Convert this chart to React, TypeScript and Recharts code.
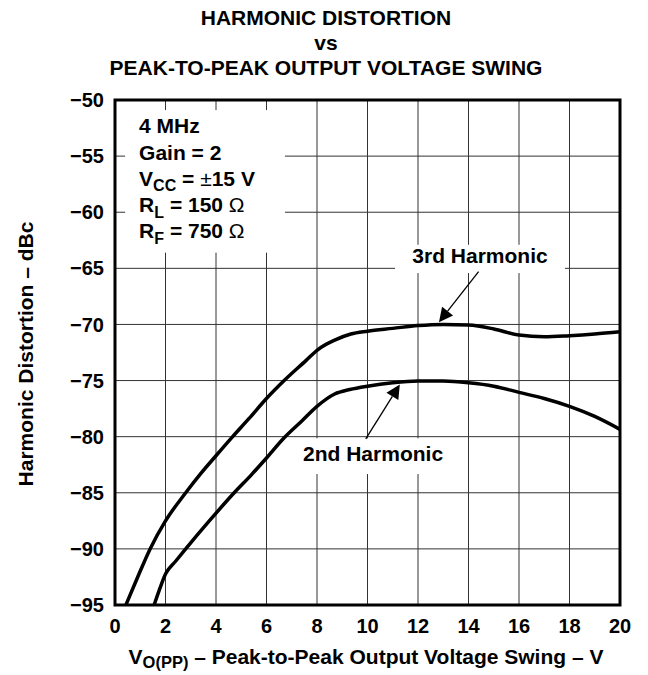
import React from 'react';
import { LineChart, Line, XAxis, YAxis, CartesianGrid, ReferenceArea, ReferenceLine } from 'recharts';

const xTicks = [0, 2, 4, 6, 8, 10, 12, 14, 16, 18, 20];
const yTicks = [-95, -90, -85, -80, -75, -70, -65, -60, -55, -50];

const thirdX = [0.43, 0.9, 1.39, 2.0, 2.8, 3.41, 4.0, 4.66, 5.3, 6.0, 6.7, 7.57, 8.0, 8.7, 9.34, 10, 11, 12, 13, 14, 15, 16, 17, 18, 19, 20];
const thirdY = [-95, -92.5, -90, -87.5, -85, -83.25, -81.7, -80, -78.4, -76.6, -75, -73.2, -72.3, -71.4, -70.85, -70.6, -70.35, -70.1, -70.0, -70.05, -70.4, -70.95, -71.1, -71.0, -70.85, -70.65];

const secondX = [1.55, 1.75, 2.01, 2.4, 2.8, 3.7, 4.72, 5.4, 6.0, 6.7, 7.4, 8.0, 8.7, 9.3, 10, 11, 12, 13, 14, 15, 16, 17, 18, 19, 20];
const secondY = [-95, -93.7, -92.2, -91.1, -90, -87.6, -85, -83.4, -81.9, -80.1, -78.6, -77.3, -76.2, -75.8, -75.5, -75.2, -75.05, -75.05, -75.2, -75.5, -76.05, -76.6, -77.3, -78.2, -79.35];

const thirdData = thirdX.map((x, i) => ({ x, y: thirdY[i] }));
const secondData = secondX.map((x, i) => ({ x, y: secondY[i] }));

const titleLines = ['HARMONIC DISTORTION', 'vs', 'PEAK-TO-PEAK OUTPUT VOLTAGE SWING'];

const FONT = '"Liberation Sans", Arial, Helvetica, sans-serif';

const InfoBox = (props: any) => {
  const { x, y, width, height } = props;
  const lx = x + 14;
  const common = { fontFamily: FONT, fontWeight: 700, fontSize: 21, fill: '#000' } as any;
  return (
    <g>
      <rect x={x} y={y} width={width} height={height} fill="#fff" />
      <text {...common} x={lx} y={y + 23.3}>4 MHz</text>
      <text {...common} x={lx} y={y + 49.5}>Gain = 2</text>
      <text {...common} x={lx} y={y + 75.7}>
        V<tspan fontSize={16} dy={5.5}>CC</tspan>
        <tspan dy={-5.5}> = </tspan>
        <tspan fontWeight={400}>±</tspan>
        <tspan>15 V</tspan>
      </text>
      <text {...common} x={lx} y={y + 102}>
        R<tspan fontSize={16} dy={5.5}>L</tspan>
        <tspan dy={-5.5}> = 150 </tspan>
        <tspan fontWeight={400}>Ω</tspan>
      </text>
      <text {...common} x={lx} y={y + 128.3}>
        R<tspan fontSize={16} dy={5.5}>F</tspan>
        <tspan dy={-5.5}> = 750 </tspan>
        <tspan fontWeight={400}>Ω</tspan>
      </text>
    </g>
  );
};

const makeLabelBox = (label: string, baseline: number) => (props: any) => {
  const { x, y, width, height } = props;
  return (
    <g>
      <rect x={x} y={y} width={width} height={height} fill="#fff" />
      <text x={x + width / 2} y={y + baseline} textAnchor="middle" fontFamily={FONT} fontWeight={700} fontSize={21} fill="#000">
        {label}
      </text>
    </g>
  );
};

const Arrow = (props: any) => {
  const { x1, y1, x2, y2 } = props;
  const dx = x2 - x1;
  const dy = y2 - y1;
  const len = Math.hypot(dx, dy) || 1;
  const ux = dx / len;
  const uy = dy / len;
  const hl = 14;
  const hw = 7;
  const bx = x2 - ux * hl;
  const by = y2 - uy * hl;
  const pts = `${x2},${y2} ${bx - uy * hw},${by + ux * hw} ${bx + uy * hw},${by - ux * hw}`;
  return (
    <g>
      <line x1={x1} y1={y1} x2={bx} y2={by} stroke="#000" strokeWidth={1.3} />
      <polygon points={pts} fill="#000" />
    </g>
  );
};

const yFmt = (v: number) => (v < 0 ? '\u2212' + Math.abs(v) : String(v));

export default function App() {
  return (
    <div style={{ position: 'absolute', left: 0, top: 0, width: 648, height: 675, background: '#fff' }}>
      <LineChart width={648} height={675} margin={{ top: 100, right: 28, bottom: 40, left: 55 }}>
        <CartesianGrid stroke="#333" strokeWidth={1} vertical horizontal />
        <XAxis
          type="number"
          dataKey="x"
          domain={[0, 20]}
          ticks={xTicks}
          interval={0}
          height={30}
          axisLine={false}
          tickLine={false}
          tickMargin={8}
          tick={{ fontFamily: FONT, fontWeight: 700, fontSize: 20, fill: '#000' }}
        />
        <YAxis
          type="number"
          dataKey="y"
          domain={[-95, -50]}
          ticks={yTicks}
          interval={0}
          allowDataOverflow
          width={60}
          axisLine={false}
          tickLine={false}
          tickMargin={5}
          tickFormatter={yFmt}
          tick={{ fontFamily: FONT, fontWeight: 700, fontSize: 20, fill: '#000' }}
        />
        <ReferenceArea x1={0.4} x2={6.73} y1={-50.9} y2={-63.6} shape={InfoBox} ifOverflow="visible" />
        <ReferenceArea x1={11.09} x2={17.82} y1={-62.9} y2={-65.42} shape={makeLabelBox('3rd Harmonic', 18)} ifOverflow="visible" />
        <ReferenceArea x1={7.25} x2={13.19} y1={-80.15} y2={-83.33} shape={makeLabelBox('2nd Harmonic', 22.7)} ifOverflow="visible" />
        <Line data={thirdData} dataKey="y" type="monotone" stroke="#000" strokeWidth={3.5} dot={false} activeDot={false} isAnimationActive={false} />
        <Line data={secondData} dataKey="y" type="monotone" stroke="#000" strokeWidth={3.5} dot={false} activeDot={false} isAnimationActive={false} />
        <ReferenceLine segment={[{ x: 14.4, y: -65.3 }, { x: 12.83, y: -69.8 }]} shape={Arrow} ifOverflow="visible" />
        <ReferenceLine segment={[{ x: 9.93, y: -80.2 }, { x: 11.28, y: -75.35 }]} shape={Arrow} ifOverflow="visible" />
        <ReferenceArea x1={0} x2={20} y1={-95} y2={-50} fill="none" fillOpacity={0} stroke="#000" strokeWidth={3} ifOverflow="visible" />
      </LineChart>
      <svg width={648} height={675} style={{ position: 'absolute', left: 0, top: 0, pointerEvents: 'none' }}>
        <g fontFamily={FONT} fontWeight={700} fill="#000" textAnchor="middle">
          <text x={326} y={25} fontSize={21}>{titleLines[0]}</text>
          <text x={326} y={50} fontSize={21}>{titleLines[1]}</text>
          <text x={326} y={75} fontSize={21}>{titleLines[2]}</text>
          <text x={33} y={354} fontSize={21} transform="rotate(-90 33 354)">Harmonic Distortion – dBc</text>
          <text x={366} y={664} fontSize={21}>
            V<tspan fontSize={16.5} dy={4}>O(PP)</tspan>
            <tspan dy={-4}> – Peak-to-Peak Output Voltage Swing – V</tspan>
          </text>
        </g>
      </svg>
    </div>
  );
}
